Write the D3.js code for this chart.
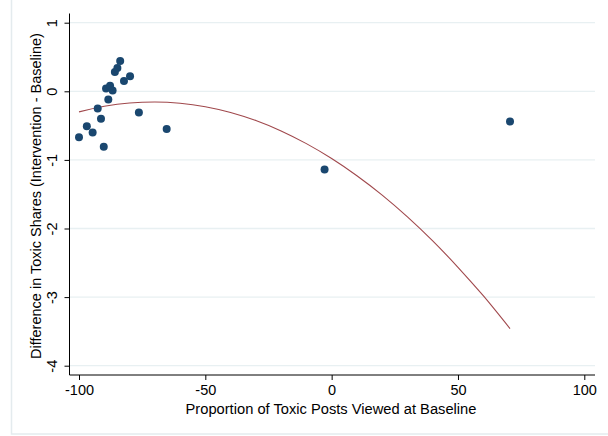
<!DOCTYPE html>
<html>
<head>
<meta charset="utf-8">
<script src="https://cdn.jsdelivr.net/npm/d3@7"></script>
<style>
  html, body { margin: 0; padding: 0; background: #ffffff; }
  svg { display: block; }
  text { font-family: "Liberation Sans", Arial, Helvetica, sans-serif; fill: #000; }
</style>
</head>
<body>
<svg id="chart" width="608" height="436"></svg>
<script>
// Baseline toxic exposure (x) vs. change in toxic shares (y), one point per group
const baselineShare = [-100, -96.9, -94.6, -92.6, -91.3, -90.2, -88.4, -89.3, -87.7, -86.7,
                       -85.8, -84.8, -83.7, -82.2, -79.8, -76.3, -65.3, -2.8, 70.6];
const shareDiff     = [-0.67, -0.51, -0.60, -0.25, -0.40, -0.81, -0.12, 0.04, 0.08, 0.01,
                       0.28, 0.34, 0.44, 0.15, 0.22, -0.31, -0.55, -1.14, -0.44];

// Quadratic fit line, sampled along x
const fitX = [-100, -90, -80, -70, -60, -50, -40, -30, -20, -10, 0, 10, 20, 30, 40, 50, 60, 70.6];
const fitY = [-0.300, -0.219, -0.171, -0.156, -0.174, -0.225, -0.309, -0.427, -0.578, -0.763,
              -0.980, -1.231, -1.514, -1.831, -2.181, -2.565, -2.980, -3.46];

const xTicks = [-100, -50, 0, 50, 100];
const yTicks = [1, 0, -1, -2, -3, -4];

const xTitle = "Proportion of Toxic Posts Viewed at Baseline";
const yTitle = "Difference in Toxic Shares (Intervention - Baseline)";

const svg = d3.select("#chart");

// Outer frame
svg.append("rect")
  .attr("x", 11.5).attr("y", -5)
  .attr("width", 620).attr("height", 439)
  .attr("fill", "none")
  .attr("stroke", "#e4ebee")
  .attr("stroke-width", 1.5);

const plot = { left: 69.5, right: 595, top: 13.5, bottom: 375 };

const x = d3.scaleLinear().domain([-100, 100]).range([79, 584.3]);
const y = d3.scaleLinear().domain([1, -4]).range([22.7, 365.7]);

// Horizontal gridlines
svg.append("g").selectAll("line")
  .data(yTicks)
  .join("line")
  .attr("x1", plot.left).attr("x2", plot.right)
  .attr("y1", d => y(d)).attr("y2", d => y(d))
  .attr("stroke", "#e8f0f2")
  .attr("stroke-width", 1.3);

// Y axis
const yAxis = svg.append("g")
  .attr("transform", `translate(${plot.left},0)`)
  .call(d3.axisLeft(y).tickValues(yTicks).tickSize(5).tickPadding(7).tickFormat(d3.format("d")));
yAxis.select(".domain")
  .attr("d", `M0,${plot.top}V${plot.bottom}`)
  .attr("stroke", "#000");
yAxis.selectAll(".tick line").attr("stroke", "#000");
yAxis.selectAll(".tick text")
  .attr("x", null).attr("dy", null)
  .attr("text-anchor", "middle")
  .attr("transform", "translate(-13,0) rotate(-90)")
  .attr("font-size", 14.5)
  .text(d => d3.format("d")(d).replace("−", "-"));

// X axis
const xAxis = svg.append("g")
  .attr("transform", `translate(0,${plot.bottom})`)
  .call(d3.axisBottom(x).tickValues(xTicks).tickSize(5).tickPadding(4));
xAxis.select(".domain")
  .attr("d", `M${plot.left},0H${plot.right}`)
  .attr("stroke", "#000");
xAxis.selectAll(".tick line").attr("stroke", "#000");
xAxis.selectAll(".tick text")
  .attr("font-size", 14.5)
  .attr("dy", null)
  .attr("y", 20)
  .text(d => String(d));

// Axis titles
svg.append("text")
  .attr("x", 331)
  .attr("y", 414)
  .attr("text-anchor", "middle")
  .attr("font-size", 14.7)
  .text(xTitle);

svg.append("text")
  .attr("transform", "translate(41,196) rotate(-90)")
  .attr("text-anchor", "middle")
  .attr("font-size", 14.5)
  .text(yTitle);

// Fitted curve
const fitData = fitX.map((d, i) => [d, fitY[i]]);
svg.append("path")
  .datum(fitData)
  .attr("fill", "none")
  .attr("stroke", "#a0484c")
  .attr("stroke-width", 1.1)
  .attr("d", d3.line().x(d => x(d[0])).y(d => y(d[1])).curve(d3.curveMonotoneX));

// Scatter points
const pts = baselineShare.map((d, i) => [d, shareDiff[i]]);
svg.append("g").selectAll("circle")
  .data(pts)
  .join("circle")
  .attr("cx", d => x(d[0]))
  .attr("cy", d => y(d[1]))
  .attr("r", 4)
  .attr("fill", "#1a476f");
</script>
</body>
</html>
